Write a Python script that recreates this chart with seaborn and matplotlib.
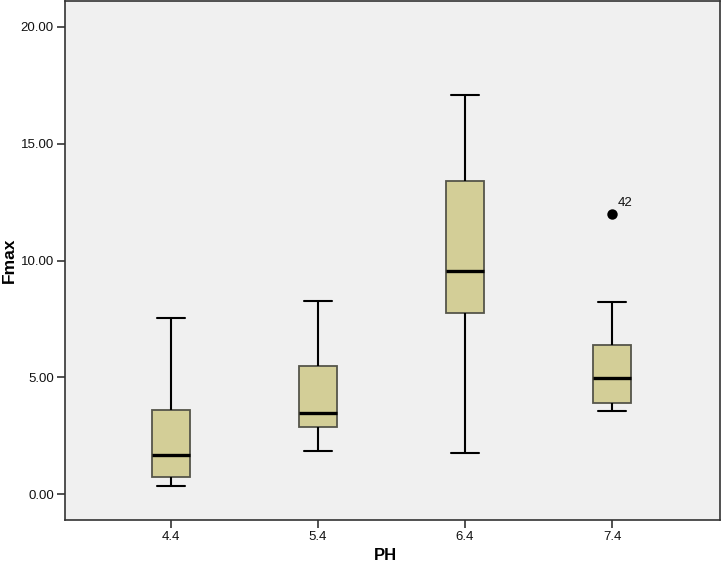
import pandas as pd
import seaborn as sns
import matplotlib.pyplot as plt

# five-number summaries (min, Q1, median, Q3, max of whiskers)
ph_levels = ['4.4', '5.4', '6.4', '7.4']
whisker_low = [0.34, 1.84, 1.75, 3.55]
q1 = [0.73, 2.86, 7.74, 3.89]
median = [1.67, 3.46, 9.57, 4.96]
q3 = [3.59, 5.47, 13.42, 6.37]
whisker_high = [7.55, 8.29, 17.09, 8.25]

# outliers
out_ph = ['7.4']
out_val = [12.0]
out_case = ['42']

rows = []
for i, ph in enumerate(ph_levels):
    for v in (whisker_low[i], q1[i], median[i], q3[i], whisker_high[i]):
        rows.append({'PH': ph, 'Fmax': v})
df = pd.DataFrame(rows)
df_out = pd.DataFrame({'PH': out_ph, 'Fmax': out_val})

sns.set_style('ticks')
plt.rcParams['font.family'] = ['Liberation Sans', 'DejaVu Sans']

fig = plt.figure(figsize=(7.21, 5.73), dpi=100)
ax = fig.add_axes([0.090, 0.092, 0.908, 0.906])
ax.set_facecolor('#F0F0F0')

sns.boxplot(data=df, x='PH', y='Fmax', order=ph_levels, ax=ax, whis=(0, 100),
            width=0.26, color='#D3CE97', saturation=1, capwidths=0.19,
            boxprops=dict(edgecolor='#55554a', linewidth=1.3),
            medianprops=dict(color='black', linewidth=2.4),
            whiskerprops=dict(color='black', linewidth=1.5),
            capprops=dict(color='black', linewidth=1.5),
            showfliers=False)
sns.stripplot(data=df_out, x='PH', y='Fmax', order=ph_levels, ax=ax, jitter=False,
              color='black', size=7.5, linewidth=0)
for ph, v, c in zip(out_ph, out_val, out_case):
    xi = ph_levels.index(ph)
    ax.text(xi + 0.035, v + 0.2, c, fontsize=9.5, color='#111111', ha='left', va='bottom')

ax.set_xlim(-0.72, 3.73)
ax.set_ylim(-1.11, 21.1)
ax.set_yticks([0, 5, 10, 15, 20])
ax.set_yticklabels([f'{t:.2f}' for t in [0, 5, 10, 15, 20]], fontsize=9.5, color='#111111')
ax.set_xticklabels(ph_levels, fontsize=9.5, color='#111111')
ax.tick_params(axis='both', length=6, width=1.2, color='#333333', pad=2)
ax.set_xlabel('PH', fontsize=12, fontweight='bold', color='black')
ax.set_ylabel('Fmax', fontsize=12.5, fontweight='bold', color='black')
ax.xaxis.set_label_coords(0.49, -0.053)
ax.yaxis.set_label_coords(-0.073, 0.5)
for s in ax.spines.values():
    s.set_visible(True)
    s.set_color('#333333')
    s.set_linewidth(1.2)

fig.savefig('out.png', dpi=100)
